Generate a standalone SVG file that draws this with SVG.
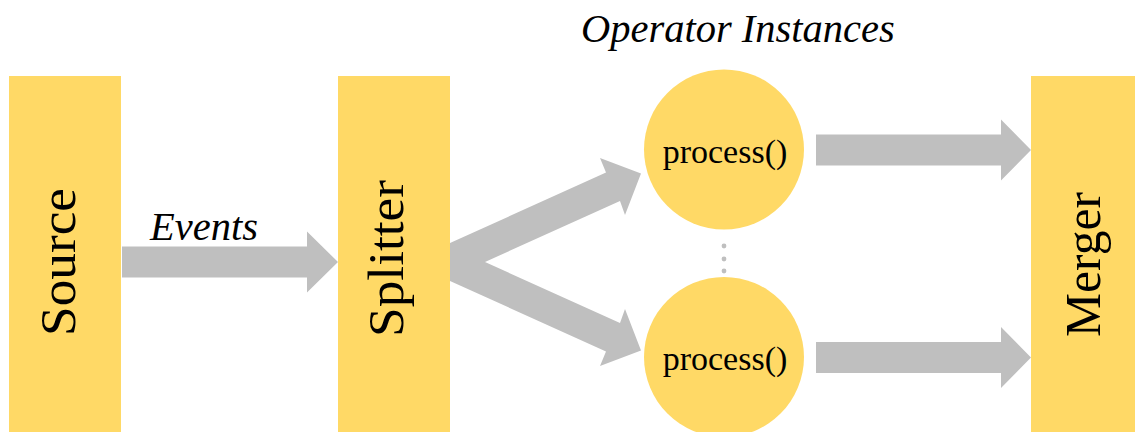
<svg xmlns="http://www.w3.org/2000/svg" width="1135" height="432" viewBox="0 0 1135 432">
  <style>
    .stage { fill: #FFD966; }
    .op { fill: #FFD966; }
    .flow { fill: #BFBFBF; }
    .dot { fill: #BFBFBF; }
    text { font-family: 'Liberation Serif', 'Times New Roman', serif; fill: #000; }
    .stage-label { font-size: 51px; }
    .op-label { font-size: 34px; text-anchor: middle; }
    .caption { font-style: italic; font-size: 40.5px; }
  </style>

  <rect width="1135" height="432" fill="#FFFFFF"/>

  <!-- data flow arrows -->
  <g id="connectors">
    <polygon class="flow" points="122,246.5 307,246.5 307,231.5 338,262 307,292.5 307,277.5 122,277.5"/>
    <polygon class="flow" points="450,243 606,172.5 600,158 641,173.5 625,215 620,201 485,262 620,323 625,309 641,350.5 600,366 606,351.5 450,281"/>
    <polygon class="flow" points="816,134.5 1001,134.5 1001,119.5 1031,150 1001,180.5 1001,165.5 816,165.5"/>
    <polygon class="flow" points="816,342 1001,342 1001,327 1031,357.5 1001,388 1001,373 816,373"/>
  </g>

  <g id="source">
    <rect class="stage" x="9" y="76" width="112" height="360"/>
    <text class="stage-label" transform="translate(75,336) rotate(-90)" x="0" y="0" textLength="148" lengthAdjust="spacingAndGlyphs">Source</text>
  </g>

  <g id="events-label">
    <text class="caption" x="150" y="240">Events</text>
  </g>

  <g id="splitter">
    <rect class="stage" x="338" y="76" width="112" height="360"/>
    <text class="stage-label" transform="translate(403,337) rotate(-90)" x="0" y="0" textLength="157" lengthAdjust="spacingAndGlyphs">Splitter</text>
  </g>

  <g id="operator-instances-label">
    <text class="caption" x="581" y="42">Operator Instances</text>
  </g>

  <g id="operator-1">
    <circle class="op" cx="724" cy="149.5" r="80"/>
    <text class="op-label" x="725" y="163">process()</text>
  </g>

  <g id="ellipsis">
    <circle class="dot" cx="724" cy="246" r="2.4"/>
    <circle class="dot" cx="724" cy="259" r="2.4"/>
    <circle class="dot" cx="724" cy="271" r="2.4"/>
  </g>

  <g id="operator-2">
    <circle class="op" cx="724" cy="357" r="80"/>
    <text class="op-label" x="725" y="370">process()</text>
  </g>

  <g id="merger">
    <rect class="stage" x="1031" y="76" width="110" height="360"/>
    <text class="stage-label" transform="translate(1100,337) rotate(-90)" x="0" y="0" textLength="145" lengthAdjust="spacingAndGlyphs">Merger</text>
  </g>
</svg>
